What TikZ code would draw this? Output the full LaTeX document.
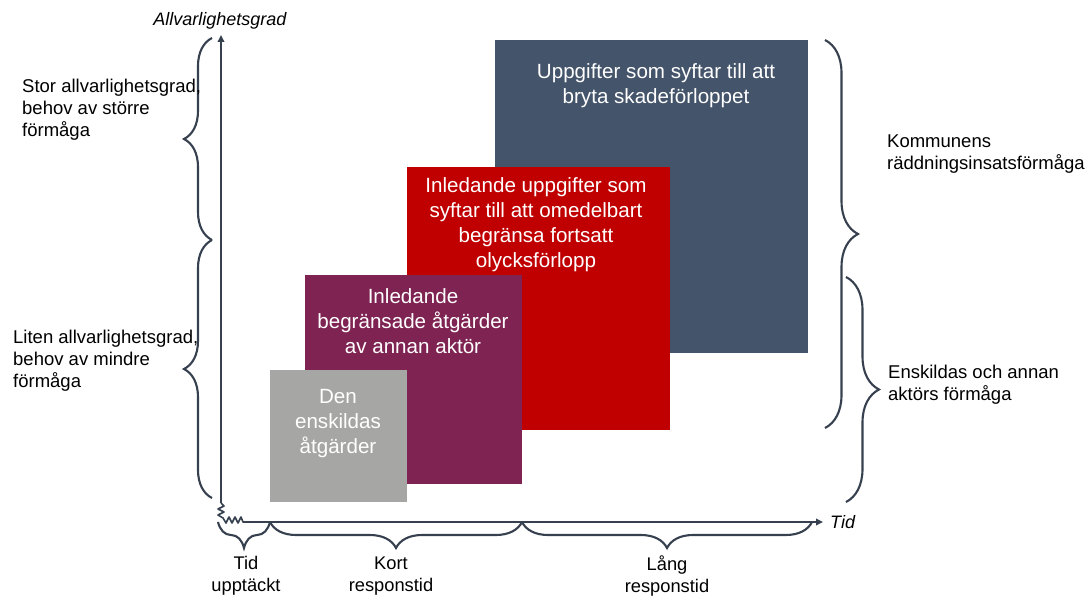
\documentclass[tikz,border=0pt]{standalone}
\usepackage{fontspec}
\setmainfont{Liberation Sans}
\usetikzlibrary{arrows.meta,decorations.pathreplacing}
\definecolor{linec}{HTML}{36404F}
\definecolor{slatec}{HTML}{44546A}
\definecolor{redc}{HTML}{C00000}
\definecolor{plumc}{HTML}{7E2352}
\definecolor{grayc}{HTML}{A6A6A4}
\begin{document}
\begin{tikzpicture}[x=1pt,y=-1pt,
  area/.style={rectangle,draw=none,inner sep=0pt,outer sep=0pt,anchor=north west},
  boxtext/.style={text=white,align=center,inner sep=0pt,font=\fontsize{20.6}{25}\selectfont},
  sidelabel/.style={text=black,align=left,inner sep=0pt,anchor=west,font=\fontsize{18.5}{22}\selectfont},
  timelabel/.style={text=black,align=center,inner sep=0pt,font=\fontsize{18.3}{22}\selectfont},
  axislabel/.style={text=black,inner sep=0pt,font=\fontsize{18}{20}\selectfont\itshape},
  axisline/.style={draw=linec,line width=2.1pt,-{Triangle[length=7pt,width=6.5pt]}},
  brc/.style={draw=linec,line width=2.1pt,decorate,decoration={brace,amplitude=#1}}
]
\useasboundingbox (0,0) rectangle (1087,596);

% rectangles (back to front)
\node[area,fill=slatec,minimum width=313pt,minimum height=313pt] (slate) at (495,40) {};
\node[area,fill=redc,minimum width=263pt,minimum height=263pt] (red) at (407,167) {};
\node[area,fill=plumc,minimum width=217pt,minimum height=209pt] (plum) at (305,275) {};
\node[area,fill=grayc,minimum width=137pt,minimum height=132pt] (gray) at (270,370) {};

% box texts
\node[boxtext] (tslate) at (656,86) {Uppgifter som syftar till att\\bryta skadeförloppet};
\node[boxtext] (tred) at (536,225) {Inledande uppgifter som\\syftar till att omedelbart\\begränsa fortsatt\\olycksförlopp};
\node[boxtext] (tplum) at (413,321.5) {Inledande\\begränsade åtgärder\\av annan aktör};
\node[boxtext] (tgray) at (338,423.5) {Den\\enskildas\\åtgärder};

% axes
\coordinate (ybot) at (221,503);
\coordinate (ytop) at (221,35);
\coordinate (xstart) at (245,522);
\coordinate (xend) at (823,522);
\draw[axisline] (ybot) -- (ytop);
\draw[axisline] (xstart) -- (xend);
\draw[draw=linec,line width=1.6pt,line join=round]
  (ybot) -- (224,506) -- (218,509) -- (224,512) -- (218,515) -- (223,518)
  -- (226,523) -- (229,517) -- (232,523) -- (235,517) -- (238,523) -- (241,517) -- (243,522) -- (xstart);
\node[axislabel] (ylab) at (220,21) {Allvarlighetsgrad};
\node[axislabel,anchor=west] (xlab) at (830,522) {Tid};

% left braces
\coordinate (la) at (212,38);
\coordinate (lb) at (212,240);
\coordinate (lc) at (212,498);
\draw[brc=28pt] (lb) -- (la);
\draw[brc=28pt] (lc) -- (lb);
\node[sidelabel] (stor) at (22,109.5) {Stor allvarlighetsgrad,\\behov av större\\förmåga};
\node[sidelabel] (liten) at (13,360.5) {Liten allvarlighetsgrad,\\behov av mindre\\förmåga};

% right braces
\coordinate (ra) at (825,40);
\coordinate (rb) at (825,428);
\coordinate (rc) at (846,277);
\coordinate (rd) at (846,502);
\draw[brc=33pt] (ra) -- (rb);
\draw[brc=33pt] (rc) -- (rd);
\node[sidelabel] (komm) at (887,154) {Kommunens\\räddningsinsatsförmåga};
\node[sidelabel] (ensk) at (888,385) {Enskildas och annan\\aktörs förmåga};

% bottom braces
\coordinate (ba) at (218,522);
\coordinate (bb) at (270,522);
\coordinate (bc) at (522,522);
\coordinate (bd) at (812,522);
\draw[brc=26pt] (bb) -- (ba);
\draw[brc=26pt] (bc) -- (bb);
\draw[brc=26pt] (bd) -- (bc);
\node[timelabel] (tupp) at (246,576) {Tid\\upptäckt};
\node[timelabel] (tkort) at (391,576) {Kort\\responstid};
\node[timelabel] (tlang) at (667,576) {Lång\\responstid};
\end{tikzpicture}
\end{document}
